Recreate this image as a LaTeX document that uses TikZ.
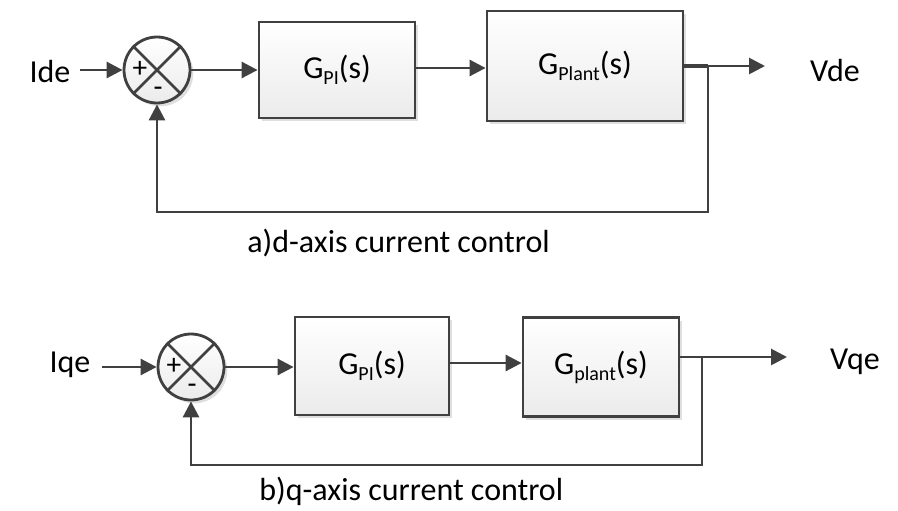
\documentclass[tikz,border=0pt]{standalone}
\usepackage{fontspec}
\setmainfont{Carlito}
\usetikzlibrary{arrows.meta,shadows}
\definecolor{ink}{HTML}{404040}
\definecolor{boxtop}{HTML}{FFFFFF}
\definecolor{boxbot}{HTML}{EBEBEB}
\newcommand{\subtxt}[1]{\raisebox{-0.4ex}{\fontsize{15}{15}\selectfont #1}}
\tikzset{
  wire/.style={draw=ink, line width=2.1pt},
  sig/.style={wire, -{Triangle[length=12pt,width=12pt]}},
  block/.style={draw=ink, line width=2.1pt, top color=boxtop, bottom color=boxbot,
    drop shadow={opacity=0.25, shadow xshift=2.5pt, shadow yshift=-2.5pt},
    font=\fontsize{24}{28}\selectfont, inner sep=0pt},
  summer/.style={circle, draw=ink, line width=2.1pt, top color=white, bottom color=boxbot,
    drop shadow={opacity=0.25, shadow xshift=2.5pt, shadow yshift=-2.5pt},
    minimum size=66*0.75pt, inner sep=0pt},
  label/.style={font=\fontsize{24}{28}\selectfont, text=black, inner sep=0pt},
  sign/.style={font=\fontsize{22}{24}\selectfont, text=black, inner sep=0pt},
}
\begin{document}
\begin{tikzpicture}[x=0.75pt,y=-0.75pt]
  \useasboundingbox (0,0) rectangle (898,510);

  % ---- d-axis loop ----
  \node[label] (ide) at (50,72) {Ide};
  \node[summer] (sa) at (157,70) {};
  \draw[ink, line width=2.1pt] (sa.north west) -- (sa.south east) (sa.north east) -- (sa.south west);
  \node[sign] at (140,69) {+};
  \node[sign] at (158,92) {-};
  \node[block, minimum width=156*0.75pt, minimum height=96*0.75pt] (pia) at (337,70) {G\subtxt{PI}(s)};
  \node[block, minimum width=196*0.75pt, minimum height=110*0.75pt] (pla) at (585,66) {G\subtxt{Plant}(s)};
  \coordinate (ia) at (80,70);
  \coordinate (ja) at (708,66);
  \coordinate (oa) at (765,66);
  \coordinate (fa) at (708,212);
  \node[label] (vde) at (835,70) {Vde};
  \draw[sig] (ia) -- (sa.west);
  \draw[sig] (sa.east) -- (sa.east -| pia.west);
  \draw[sig] (pia.east |- 0,68) -- (pla.west |- 0,68);
  \draw[wire, line width=3.2pt] (pla.east) -- (ja);
  \draw[sig] (ja) -- (oa);
  \draw[sig] (ja) -- (fa) -| (sa.south);
  \node[label, anchor=base west] (capa) at (247,252) {a)d-axis current control};

  % ---- q-axis loop ----
  \node[label] (iqe) at (70,365) {Iqe};
  \node[summer] (sb) at (191,367) {};
  \draw[ink, line width=2.1pt] (sb.north west) -- (sb.south east) (sb.north east) -- (sb.south west);
  \node[sign] at (174,366) {+};
  \node[sign] at (192,389) {-};
  \node[block, minimum width=154*0.75pt, minimum height=98*0.75pt] (pib) at (372,366) {G\subtxt{PI}(s)};
  \node[block, minimum width=156*0.75pt, minimum height=99*0.75pt] (plb) at (601,367) {G\subtxt{plant}(s)};
  \coordinate (ib) at (102,367);
  \coordinate (jb) at (702,357);
  \coordinate (ob) at (787,357);
  \coordinate (fb) at (702,465);
  \node[label] (vqe) at (855,362) {Vqe};
  \draw[sig] (ib) -- (sb.west);
  \draw[sig] (sb.east) -- (sb.east -| pib.west);
  \draw[sig] (pib.east |- 0,363) -- (plb.west |- 0,363);
  \draw[wire] (plb.east |- jb) -- (jb);
  \draw[sig] (jb) -- (ob);
  \draw[sig] (jb) -- (fb) -| (sb.south);
  \node[label, anchor=base west] (capb) at (259,500) {b)q-axis current control};
\end{tikzpicture}
\end{document}
